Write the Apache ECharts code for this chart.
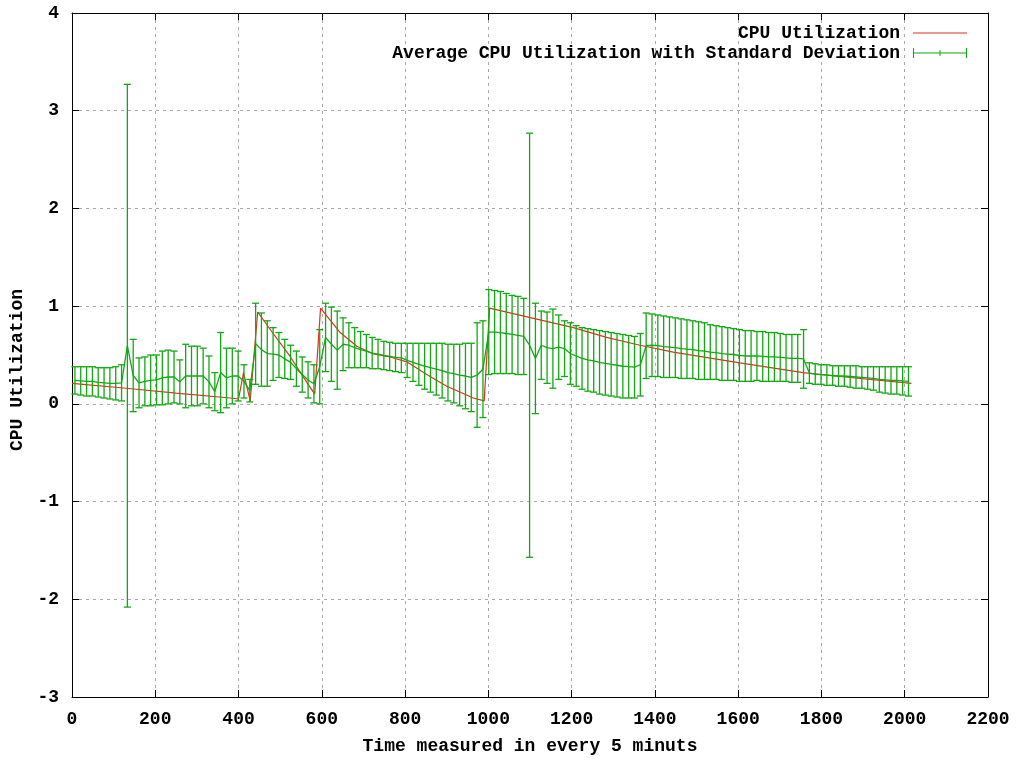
<!DOCTYPE html>
<html>
<head>
<meta charset="utf-8">
<script src="https://cdn.jsdelivr.net/npm/echarts@6/dist/echarts.min.js"></script>
<style>
  html, body { margin: 0; padding: 0; background: #fff; }
  #chart { width: 1019px; height: 760px; }
</style>
</head>
<body>
<div id="chart"></div>
<script>
// time (in 5-minute samples) of each averaged point
var times = [
    7, 21, 35, 49, 63, 77, 91, 105, 119, 133,
    147, 161, 175, 189, 203, 217, 231, 245, 259, 273,
    287, 301, 315, 329, 343, 357, 371, 385, 399, 413,
    427, 441, 455, 469, 483, 497, 511, 525, 539, 553,
    567, 581, 595, 609, 623, 637, 651, 665, 679, 693,
    707, 721, 735, 749, 763, 777, 791, 805, 819, 833,
    847, 861, 875, 889, 903, 917, 931, 945, 959, 973,
    987, 1001, 1015, 1029, 1043, 1057, 1071, 1085, 1099, 1113,
    1127, 1141, 1155, 1169, 1183, 1197, 1211, 1225, 1239, 1253,
    1267, 1281, 1295, 1309, 1323, 1337, 1351, 1365, 1379, 1393,
    1407, 1421, 1435, 1449, 1463, 1477, 1491, 1505, 1519, 1533,
    1547, 1561, 1575, 1589, 1603, 1617, 1631, 1645, 1659, 1673,
    1687, 1701, 1715, 1729, 1743, 1757, 1771, 1785, 1799, 1813,
    1827, 1841, 1855, 1869, 1883, 1897, 1911, 1925, 1939, 1953,
    1967, 1981, 1995, 2009
];
// average cpu utilization of each point
var avgCpu = [
    0.24, 0.235, 0.23, 0.23, 0.22, 0.215, 0.21, 0.21, 0.215, 0.595,
    0.29, 0.215, 0.23, 0.24, 0.245, 0.265, 0.275, 0.275, 0.225, 0.285,
    0.285, 0.285, 0.285, 0.225, 0.125, 0.32, 0.265, 0.285, 0.285, 0.23,
    0.135, 0.615, 0.555, 0.515, 0.51, 0.50, 0.46, 0.425, 0.36, 0.30,
    0.245, 0.205, 0.38, 0.68, 0.61, 0.55, 0.61, 0.60, 0.575, 0.555,
    0.54, 0.52, 0.51, 0.495, 0.485, 0.475, 0.47, 0.445, 0.425, 0.405,
    0.385, 0.37, 0.355, 0.34, 0.32, 0.31, 0.295, 0.285, 0.27, 0.295,
    0.355, 0.735, 0.735, 0.73, 0.72, 0.71, 0.70, 0.69, 0.60, 0.465,
    0.60, 0.575, 0.565, 0.58, 0.565, 0.515, 0.49, 0.465, 0.45, 0.44,
    0.425, 0.415, 0.405, 0.395, 0.385, 0.38, 0.375, 0.40, 0.595, 0.60,
    0.595, 0.585, 0.58, 0.575, 0.565, 0.56, 0.555, 0.545, 0.54, 0.53,
    0.525, 0.515, 0.51, 0.505, 0.495, 0.49, 0.49, 0.49, 0.485, 0.48,
    0.48, 0.475, 0.47, 0.465, 0.465, 0.46, 0.315, 0.305, 0.30, 0.295,
    0.29, 0.285, 0.285, 0.28, 0.275, 0.27, 0.265, 0.26, 0.25, 0.245,
    0.24, 0.24, 0.235, 0.23
];
// standard deviation of each point
var stdCpu = [
    0.14, 0.145, 0.15, 0.15, 0.15, 0.155, 0.16, 0.17, 0.185, 2.675,
    0.37, 0.255, 0.25, 0.26, 0.255, 0.275, 0.275, 0.265, 0.225, 0.325,
    0.305, 0.305, 0.285, 0.265, 0.195, 0.41, 0.305, 0.285, 0.255, 0.17,
    0.115, 0.415, 0.375, 0.335, 0.27, 0.23, 0.20, 0.175, 0.18, 0.18,
    0.185, 0.195, 0.38, 0.35, 0.38, 0.40, 0.27, 0.23, 0.205, 0.185,
    0.17, 0.16, 0.15, 0.145, 0.145, 0.145, 0.15, 0.175, 0.195, 0.215,
    0.235, 0.25, 0.265, 0.28, 0.29, 0.30, 0.315, 0.335, 0.35, 0.535,
    0.495, 0.435, 0.425, 0.42, 0.41, 0.40, 0.40, 0.39, 2.17, 0.565,
    0.35, 0.365, 0.405, 0.33, 0.285, 0.315, 0.31, 0.315, 0.32, 0.32,
    0.325, 0.325, 0.325, 0.325, 0.325, 0.32, 0.315, 0.32, 0.335, 0.32,
    0.315, 0.315, 0.31, 0.305, 0.305, 0.30, 0.295, 0.295, 0.29, 0.28,
    0.275, 0.275, 0.27, 0.265, 0.265, 0.26, 0.26, 0.25, 0.255, 0.25,
    0.25, 0.245, 0.24, 0.245, 0.245, 0.30, 0.105, 0.105, 0.10, 0.105,
    0.10, 0.105, 0.105, 0.11, 0.115, 0.11, 0.115, 0.12, 0.13, 0.135,
    0.14, 0.14, 0.145, 0.15
];
// raw cpu utilization trace (breakpoints)
var cpuTime = [
    0, 130, 250, 380, 400, 412, 428, 446, 483, 523,
    564, 583, 597, 644, 684, 724, 764, 804, 852, 900,
    964, 990, 1003, 1124, 1204, 1284, 1364, 1444, 1604, 1756,
    1844, 2016
];
var cpuValue = [
    0.21, 0.16, 0.11, 0.06, 0.05, 0.32, 0.03, 0.94, 0.72, 0.49,
    0.22, 0.10, 0.98, 0.73, 0.59, 0.51, 0.48, 0.43, 0.30, 0.18,
    0.06, 0.03, 0.98, 0.86, 0.78, 0.68, 0.60, 0.53, 0.42, 0.32,
    0.28, 0.21
];

var FONT = '"Liberation Mono", "DejaVu Sans Mono", monospace';
var RED = '#e0301e';
var GREEN = '#12a812';

var myChart = echarts.init(document.getElementById('chart'));

var errData = times.map(function (t, i) { return [t, avgCpu[i], stdCpu[i]]; });
var avgLine = times.map(function (t, i) { return [t, avgCpu[i]]; });
var cpuLine = cpuTime.map(function (t, i) { return [t, cpuValue[i]]; });

var labelStyle = { fontFamily: FONT, fontWeight: 'bold', fontSize: 18, color: '#000' };
var gridLine = { show: true, lineStyle: { color: '#a8a8a8', type: [3, 4], width: 1 } };
var border = { show: true, onZero: false, lineStyle: { color: '#000', width: 1 } };
var ticks = { show: true, inside: true, length: 7, lineStyle: { color: '#000' } };

option = {
    backgroundColor: '#fff',
    animation: false,
    grid: { left: 72, right: 31, top: 13, bottom: 62 },
    legend: {
        orient: 'vertical',
        right: 47,
        top: 19,
        align: 'right',
        itemWidth: 54,
        itemHeight: 10,
        itemGap: 2,
        selectedMode: false,
        textStyle: { fontFamily: FONT, fontWeight: 'bold', fontSize: 18, color: '#000', padding: [0, 8, 0, 0] },
        data: [
            { name: 'CPU Utilization', icon: 'path://M0,4.4h54v1.2h-54z' },
            { name: 'Average CPU Utilization with Standard Deviation',
              icon: 'path://M0,0h1v10h-1z M0,4.5h54v1h-54z M26.5,2h1v6h-1z M53,0h1v10h-1z' }
        ]
    },
    xAxis: [
        {
            type: 'value', min: 0, max: 2200, interval: 200, position: 'bottom',
            name: 'Time measured in every 5 minuts', nameLocation: 'middle', nameGap: 40,
            nameTextStyle: labelStyle,
            axisLine: border, axisTick: ticks, splitLine: gridLine,
            axisLabel: Object.assign({ margin: 13, formatter: function (v) { return String(v); } }, labelStyle)
        },
        {
            type: 'value', min: 0, max: 2200, interval: 200, position: 'top',
            axisLine: border, axisTick: ticks, splitLine: { show: false },
            axisLabel: { show: false }
        }
    ],
    yAxis: [
        {
            type: 'value', min: -3, max: 4, interval: 1, position: 'left',
            name: 'CPU Utilization', nameLocation: 'middle', nameGap: 46,
            nameTextStyle: Object.assign({ padding: [0, 30, 0, 0] }, labelStyle),
            axisLine: border, axisTick: ticks, splitLine: gridLine,
            axisLabel: Object.assign({ margin: 13 }, labelStyle)
        },
        {
            type: 'value', min: -3, max: 4, interval: 1, position: 'right',
            axisLine: border, axisTick: ticks, splitLine: { show: false },
            axisLabel: { show: false }
        }
    ],
    series: [
        {
            name: 'CPU Utilization',
            type: 'line',
            data: cpuLine,
            showSymbol: false,
            symbol: 'none',
            itemStyle: { color: RED },
            lineStyle: { color: RED, width: 1.2 },
            z: 2
        },
        {
            name: 'Average CPU Utilization with Standard Deviation',
            type: 'custom',
            data: errData,
            encode: { x: 0, y: 1 },
            itemStyle: { color: GREEN },
            z: 3,
            renderItem: function (params, api) {
                var x = api.value(0), m = api.value(1), s = api.value(2);
                var top = api.coord([x, m + s]);
                var bot = api.coord([x, m - s]);
                var hw = 3.5;
                return {
                    type: 'group',
                    children: [
                        { type: 'line', shape: { x1: top[0], y1: top[1], x2: bot[0], y2: bot[1] },
                          style: { stroke: GREEN, lineWidth: 1.3 } },
                        { type: 'line', shape: { x1: top[0] - hw, y1: top[1], x2: top[0] + hw, y2: top[1] },
                          style: { stroke: GREEN, lineWidth: 1.3 } },
                        { type: 'line', shape: { x1: bot[0] - hw, y1: bot[1], x2: bot[0] + hw, y2: bot[1] },
                          style: { stroke: GREEN, lineWidth: 1.3 } }
                    ]
                };
            }
        },
        {
            name: 'Average CPU Utilization with Standard Deviation',
            type: 'line',
            data: avgLine,
            showSymbol: false,
            symbol: 'none',
            itemStyle: { color: GREEN },
            lineStyle: { color: GREEN, width: 1.3 },
            z: 3
        }
    ]
};

myChart.setOption(option);
</script>
</body>
</html>
